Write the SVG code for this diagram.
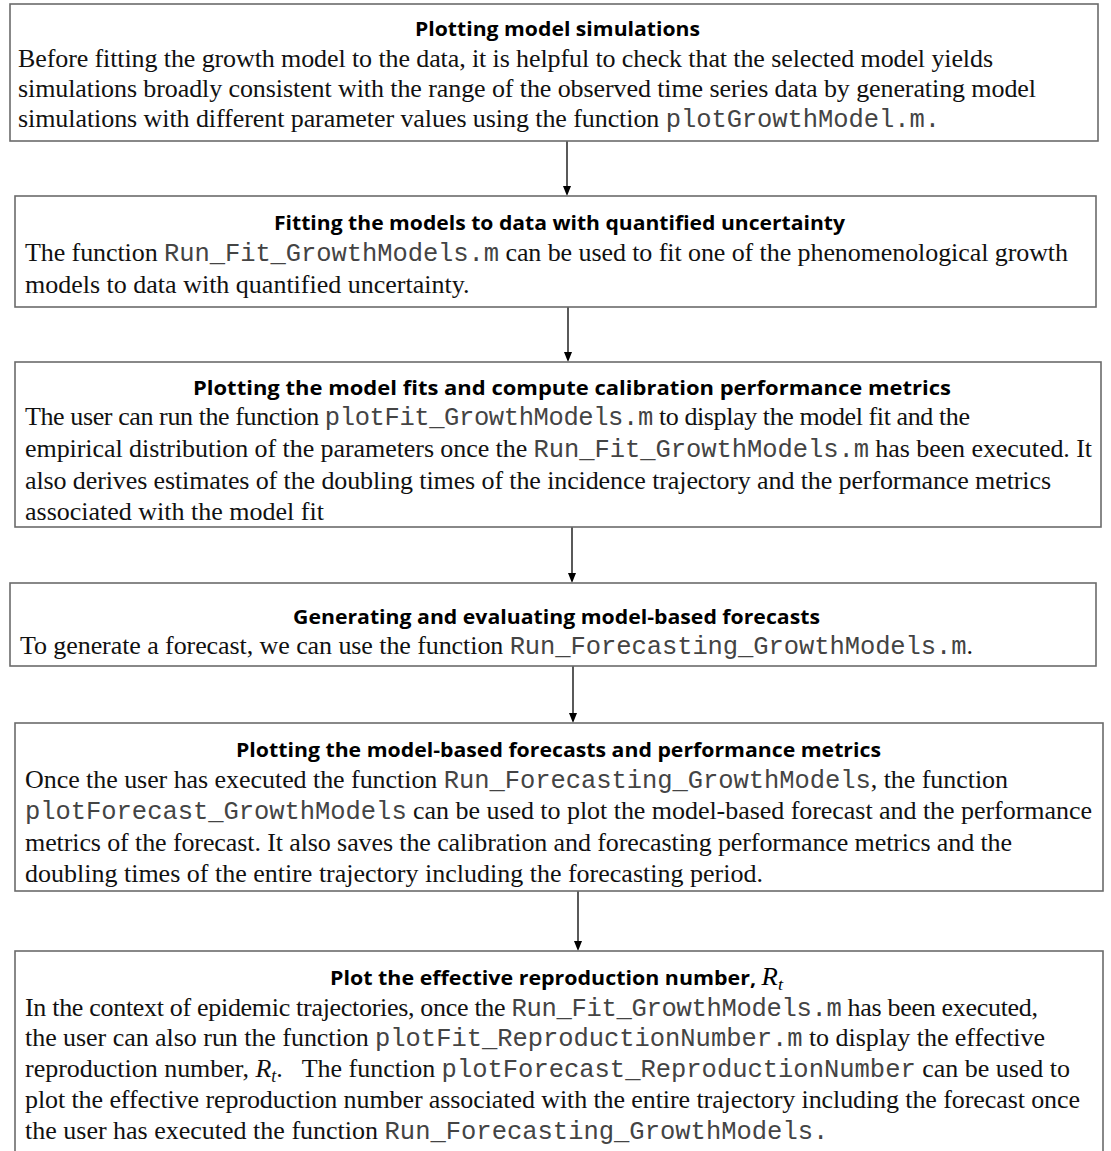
<svg xmlns="http://www.w3.org/2000/svg" width="1111" height="1151" viewBox="0 0 1111 1151">
<defs>
<style>
.box{fill:#fff;stroke:#6b6b6b;stroke-width:1.6}
.t{font-family:"Open Sans","Liberation Sans",sans-serif;font-weight:bold;font-size:20px;fill:#000}
.b{font-family:"Liberation Serif","Times New Roman",serif;font-size:26px;fill:#111}
.m{font-family:"Liberation Mono","Courier New",monospace;font-size:25.5px;fill:#444}
.i{font-family:"Liberation Serif","Times New Roman",serif;font-style:italic}
.c{stroke:#000;stroke-width:1.3;fill:none}
.ah{fill:#000}
</style>
</defs>
<rect width="1111" height="1151" fill="#fff"/>

<g id="connectors">
<line class="c" x1="567" y1="141" x2="567" y2="188"/>
<path class="ah" d="M563,186 L571,186 L567,196 Z"/>
<line class="c" x1="568" y1="307" x2="568" y2="354"/>
<path class="ah" d="M564,352 L572,352 L568,362 Z"/>
<line class="c" x1="572" y1="527" x2="572" y2="575"/>
<path class="ah" d="M568,573 L576,573 L572,583 Z"/>
<line class="c" x1="573" y1="666" x2="573" y2="715"/>
<path class="ah" d="M569,713 L577,713 L573,723 Z"/>
<line class="c" x1="578" y1="891" x2="578" y2="943"/>
<path class="ah" d="M574,941 L582,941 L578,951 Z"/>
</g>

<g id="node1">
<rect class="box" x="10" y="4" width="1088" height="137"/>
<text class="t" x="415" y="36" textLength="285" lengthAdjust="spacingAndGlyphs">Plotting model simulations</text>
<text class="b" x="18" y="67" textLength="975" lengthAdjust="spacing">Before fitting the growth model to the data, it is helpful to check that the selected model yields</text>
<text class="b" x="18" y="97" textLength="1018" lengthAdjust="spacing">simulations broadly consistent with the range of the observed time series data by generating model</text>
<text class="b" x="18" y="127" textLength="922" lengthAdjust="spacing">simulations with different parameter values using the function <tspan class="m">plotGrowthModel.m.</tspan></text>
</g>

<g id="node2">
<rect class="box" x="15" y="196" width="1081" height="111"/>
<text class="t" x="274" y="230" textLength="571" lengthAdjust="spacingAndGlyphs">Fitting the models to data with quantified uncertainty</text>
<text class="b" x="25" y="261" textLength="1043" lengthAdjust="spacing">The function <tspan class="m">Run_Fit_GrowthModels.m</tspan> can be used to fit one of the phenomenological growth</text>
<text class="b" x="25" y="293">models to data with quantified uncertainty.</text>
</g>

<g id="node3">
<rect class="box" x="15" y="362" width="1086" height="165"/>
<text class="t" x="193" y="395" textLength="758" lengthAdjust="spacingAndGlyphs">Plotting the model fits and compute calibration performance metrics</text>
<text class="b" x="25" y="425" textLength="945" lengthAdjust="spacing">The user can run the function <tspan class="m">plotFit_GrowthModels.m</tspan> to display the model fit and the</text>
<text class="b" x="25" y="457" textLength="1067" lengthAdjust="spacing">empirical distribution of the parameters once the <tspan class="m">Run_Fit_GrowthModels.m</tspan> has been executed. It</text>
<text class="b" x="25" y="489" textLength="1026" lengthAdjust="spacing">also derives estimates of the doubling times of the incidence trajectory and the performance metrics</text>
<text class="b" x="25" y="520">associated with the model fit</text>
</g>

<g id="node4">
<rect class="box" x="10" y="583" width="1086" height="83"/>
<text class="t" x="293" y="624" textLength="527" lengthAdjust="spacingAndGlyphs">Generating and evaluating model-based forecasts</text>
<text class="b" x="20" y="654" textLength="953" lengthAdjust="spacing">To generate a forecast, we can use the function <tspan class="m">Run_Forecasting_GrowthModels.m</tspan>.</text>
</g>

<g id="node5">
<rect class="box" x="15" y="723" width="1088" height="168"/>
<text class="t" x="236" y="757" textLength="645" lengthAdjust="spacingAndGlyphs">Plotting the model-based forecasts and performance metrics</text>
<text class="b" x="25" y="788" textLength="983" lengthAdjust="spacing">Once the user has executed the function <tspan class="m">Run_Forecasting_GrowthModels</tspan>, the function</text>
<text class="b" x="25" y="819" textLength="1067" lengthAdjust="spacing"><tspan class="m">plotForecast_GrowthModels</tspan> can be used to plot the model-based forecast and the performance</text>
<text class="b" x="25" y="851" textLength="987" lengthAdjust="spacing">metrics of the forecast. It also saves the calibration and forecasting performance metrics and the</text>
<text class="b" x="25" y="882">doubling times of the entire trajectory including the forecasting period.</text>
</g>

<g id="node6">
<rect class="box" x="15" y="951" width="1088" height="210"/>
<text class="t" x="330" y="985" textLength="453" lengthAdjust="spacingAndGlyphs">Plot the effective reproduction number, <tspan class="i" font-weight="normal" font-size="25px">R</tspan><tspan class="i" font-weight="normal" font-size="17px" dy="5">t</tspan></text>
<text class="b" x="25" y="1016" textLength="1013" lengthAdjust="spacing">In the context of epidemic trajectories, once the <tspan class="m">Run_Fit_GrowthModels.m</tspan> has been executed,</text>
<text class="b" x="25" y="1046" textLength="1020" lengthAdjust="spacing">the user can also run the function <tspan class="m">plotFit_ReproductionNumber.m</tspan> to display the effective</text>
<text class="b" x="25" y="1077" textLength="1045" lengthAdjust="spacing">reproduction number, <tspan class="i">R</tspan><tspan class="i" font-size="18px" dy="5">t</tspan><tspan dy="-5" xml:space="preserve">.   The function </tspan><tspan class="m">plotForecast_ReproductionNumber</tspan> can be used to</text>
<text class="b" x="25" y="1108" textLength="1055" lengthAdjust="spacing">plot the effective reproduction number associated with the entire trajectory including the forecast once</text>
<text class="b" x="25" y="1139">the user has executed the function <tspan class="m">Run_Forecasting_GrowthModels.</tspan></text>
</g>
</svg>
